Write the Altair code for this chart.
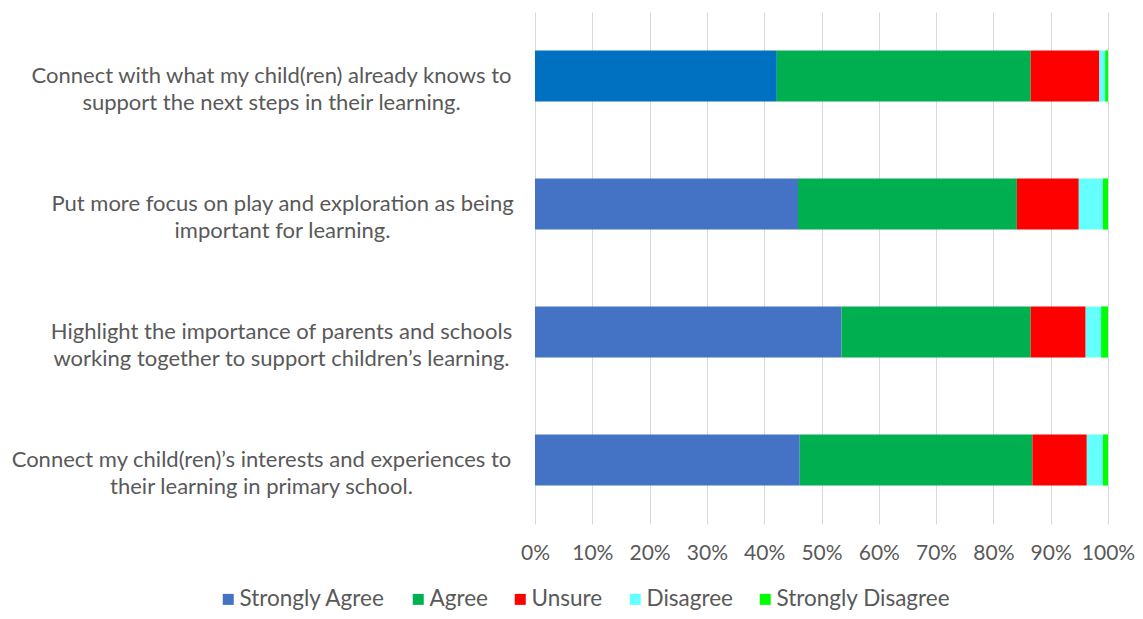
import altair as alt
import pandas as pd

statements = [
    "Connect with what my child(ren) already knows to|support the next steps in their learning.",
    "Put more focus on play and exploration as being|important for learning.",
    "Highlight the importance of parents and schools|working together to support children’s learning.",
    "Connect my child(ren)’s interests and experiences to|their learning in primary school.",
]
responses = ["Strongly Agree", "Agree", "Unsure", "Disagree", "Strongly Disagree"]
colors = ["#4472C4", "#00B050", "#FF0000", "#66FFFF", "#00FF00"]

strongly_agree = [42.2, 45.9, 53.5, 46.2]
agree = [44.3, 38.2, 33.0, 40.6]
unsure = [12.0, 10.8, 9.6, 9.5]
disagree = [1.0, 4.2, 2.7, 2.8]
strongly_disagree = [0.5, 0.9, 1.2, 0.9]

x_ticks = [0, 10, 20, 30, 40, 50, 60, 70, 80, 90, 100]

series = [strongly_agree, agree, unsure, disagree, strongly_disagree]
rows = []
for si, s in enumerate(statements):
    for ri, r in enumerate(responses):
        rows.append({"statement": s, "idx": si, "response": r, "order": ri, "value": series[ri][si]})
df = pd.DataFrame(rows)

FONT = "Lato"
GRAY = "#595959"

pad_cond = {
    "condition": [
        {"test": "indexof(datum.value, 'already') >= 0", "value": 264},
        {"test": "indexof(datum.value, 'play and') >= 0", "value": 253},
        {"test": "indexof(datum.value, 'Highlight') >= 0", "value": 254},
    ],
    "value": 274,
}

chart = alt.Chart(df).mark_bar(strokeWidth=0).encode(
    x=alt.X(
        "value:Q",
        stack="zero",
        scale=alt.Scale(domain=[0, 100], nice=False),
        axis=alt.Axis(
            values=x_ticks,
            labelExpr="datum.value + '%'",
            title=None,
            grid=True,
            gridColor="#D9D9D9",
            gridWidth=1,
            ticks=False,
            domain=False,
            labelFont=FONT,
            labelFontSize=21,
            labelColor=GRAY,
            labelPadding=18,
            labelOverlap=False,
            labelFlush=False,
        ),
    ),
    y=alt.Y(
        "statement:N",
        sort=statements,
        scale=alt.Scale(paddingInner=0.6, paddingOuter=0.3),
        axis=alt.Axis(
            title=None,
            ticks=False,
            domain=False,
            grid=False,
            labelExpr="split(datum.label, '|')",
            labelAlign="center",
            labelBaseline="middle",
            labelPadding=pad_cond,
            labelFont=FONT,
            labelFontSize=22,
            labelLineHeight=27,
            labelColor=GRAY,
            labelLimit=0,
        ),
    ),
    color=alt.condition(
        "datum.idx === 0 && datum.response === 'Strongly Agree'",
        alt.value("#0070C0"),
        alt.Color(
            "response:N",
            sort=responses,
            scale=alt.Scale(domain=responses, range=colors),
            legend=alt.Legend(
                title=None,
                orient="none",
                direction="horizontal",
                legendX=-318,
                legendY=576,
                symbolType="square",
                symbolSize=121,
                symbolStrokeWidth=0,
                labelFont=FONT,
                labelFontSize=22.5,
                labelColor=GRAY,
                columnPadding=21,
                labelOffset=0,
                labelLimit=0,
            ),
        ),
    ),
    order=alt.Order("order:Q", sort="ascending"),
).properties(
    width=573,
    height=512,
    autosize=alt.AutoSizeParams(type="none"),
    padding={"left": 527, "top": 4, "right": 27, "bottom": 87},
).configure_view(stroke=None)

chart.save("out.html", embed_options={"renderer": "svg", "actions": False})
